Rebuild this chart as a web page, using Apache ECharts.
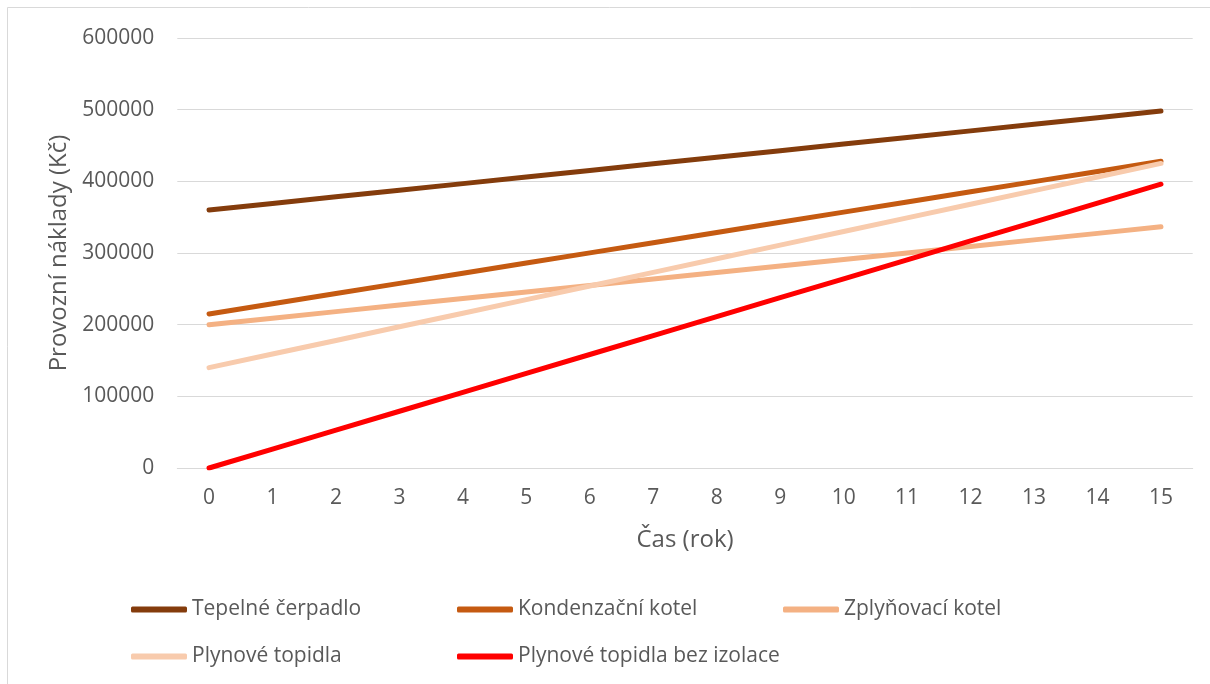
<!DOCTYPE html>
<html>
<head>
<meta charset="utf-8">
<script src="https://cdn.jsdelivr.net/npm/echarts@6/dist/echarts.min.js"></script>
<style>
html,body{margin:0;padding:0;background:#fff;}
#chart{width:1210px;height:684px;}
</style>
</head>
<body>
<div id="chart"></div>
<script>
const years = ['0','1','2','3','4','5','6','7','8','9','10','11','12','13','14','15'];
const seriesNames = ['Tepelné čerpadlo','Kondenzační kotel','Zplyňovací kotel','Plynové topidla','Plynové topidla bez izolace'];
const tepelneCerpadlo = [360000,369200,378400,387600,396800,406000,415200,424400,433600,442800,452000,461200,470400,479600,488800,498000];
const kondenzacniKotel = [215000,229200,243400,257600,271800,286000,300200,314400,328600,342800,357000,371200,385400,399600,413800,428000];
const zplynovaciKotel = [200000,209100,218200,227300,236400,245500,254600,263700,272800,281900,291000,300100,309200,318300,327400,336500];
const plynoveTopidla = [140000,159000,178000,197000,216000,235000,254000,273000,292000,311000,330000,349000,368000,387000,406000,425000];
const plynoveTopidlaBezIzolace = [0,26400,52800,79200,105600,132000,158400,184800,211200,237600,264000,290400,316800,343200,369600,396000];
const yAxisTitle = 'Provozní náklady (Kč)';
const xAxisTitle = 'Čas (rok)';

const colors = ['#843C0C','#C55A11','#F4B183','#F8CBAD','#FF0000'];
const dataSets = [tepelneCerpadlo,kondenzacniKotel,zplynovaciKotel,plynoveTopidla,plynoveTopidlaBezIzolace];
const FONT = '"Open Sans", "Noto Sans", sans-serif';
const TXT = '#595959';

const legendPos = [[131,599],[457,599],[783,599],[131,646],[457,646]];

const chart = echarts.init(document.getElementById('chart'), null, {renderer:'canvas'});
chart.setOption({
  animation:false,
  backgroundColor:'#fff',
  textStyle:{fontFamily:FONT},
  graphic:[{
    type:'rect', silent:true, z:-10,
    shape:{x:7.5,y:7.5,width:1220,height:700},
    style:{fill:'none',stroke:'#d9d9d9',lineWidth:1}
  }],
  grid:{left:177.3,right:17.3,top:38,bottom:216,containLabel:false},
  legend: seriesNames.map((n,i)=>({
    data:[n], left:legendPos[i][0], top:legendPos[i][1], padding:0,
    icon:'roundRect', itemWidth:56, itemHeight:6,
    textStyle:{color:TXT,fontSize:21,fontFamily:FONT}
  })),
  xAxis:{
    type:'category', data:years, boundaryGap:true,
    name:xAxisTitle, nameLocation:'middle', nameGap:60,
    nameTextStyle:{color:TXT,fontSize:24,fontFamily:FONT},
    axisLine:{show:true,lineStyle:{color:'#d9d9d9',width:1}},
    axisTick:{show:false},
    axisLabel:{color:TXT,fontSize:21,margin:20,fontFamily:FONT}
  },
  yAxis:{
    type:'value', min:0, max:600000, interval:100000,
    name:yAxisTitle, nameLocation:'middle', nameGap:104,
    nameTextStyle:{color:TXT,fontSize:24,fontFamily:FONT},
    axisLine:{show:false}, axisTick:{show:false},
    splitLine:{lineStyle:{color:'#d9d9d9',width:1}},
    axisLabel:{color:TXT,fontSize:21,margin:23,fontFamily:FONT,formatter:v=>String(v)}
  },
  series: seriesNames.map((n,i)=>({
    name:n, type:'line', data:dataSets[i], symbol:'none', showSymbol:false,
    lineStyle:{color:colors[i],width:5,cap:'round'},
    itemStyle:{color:colors[i]}
  }))
});
</script>
</body>
</html>
